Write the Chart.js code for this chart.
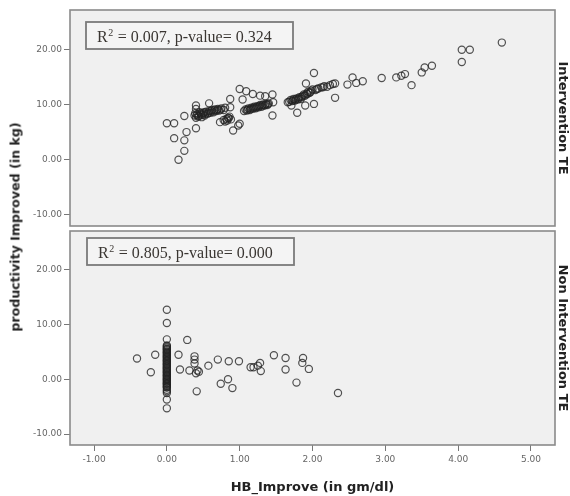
<!DOCTYPE html>
<html>
<head>
<meta charset="utf-8">
<script src="https://cdn.jsdelivr.net/npm/chart.js@4"></script>
<style>
  html, body { margin:0; padding:0; background:#fff; }
  #wrap { position:relative; width:570px; height:496px; overflow:hidden; }
  .cbox { position:absolute; left:0; width:570px; }
  #ytitle { position:absolute; left:15px; top:227px; transform:translate(-50%,-50%) rotate(-90deg);
    font:bold 12.6px "DejaVu Sans", sans-serif; color:#222; white-space:nowrap; }
</style>
</head>
<body>
<div id="wrap">
  <div class="cbox" style="top:0;height:236px"><canvas id="c1"></canvas></div>
  <div class="cbox" style="top:221px;height:275px"><canvas id="c2"></canvas></div>
  <div id="ytitle">productivity Improved (in kg)</div>
</div>
<script>
// ---- data ----
const panelNames = ["Intervention TE", "Non Intervention TE"];
const statsText = [["0.007", "0.324"], ["0.805", "0.000"]];
const xTickValues = [-1, 0, 1, 2, 3, 4, 5];
const yTickValues = [-10, 0, 10, 20];
const xTitle = "HB_Improve (in gm/dl)";

const interventionX = [
  0.00,0.10,0.24,0.10,0.24,0.27,0.24,0.16,0.40,0.40,0.40,
  0.38,0.40,0.42,0.44,0.45,0.47,0.48,0.50,0.52,0.54,0.56,0.58,0.60,0.62,0.64,0.66,0.68,0.70,0.72,0.75,0.78,0.80,
  0.39,0.41,0.43,0.46,0.49,0.51,0.53,0.57,0.61,0.65,0.69,0.74,
  0.58,0.73,0.78,0.82,0.84,0.86,0.88,0.80,0.83,0.85,0.91,0.98,1.00,0.87,0.87,
  1.00,1.09,1.18,1.28,1.35,1.45,1.46,1.45,1.04,
  1.06,1.08,1.10,1.12,1.14,1.16,1.18,1.20,1.22,1.24,1.26,1.28,1.30,1.32,1.34,1.36,1.38,1.40,
  1.11,1.15,1.19,1.23,1.27,1.31,1.35,1.39,
  1.66,
  1.68,1.70,1.72,1.74,1.76,1.78,1.80,1.82,1.84,1.86,1.88,1.90,1.92,1.94,1.96,1.98,2.00,2.04,2.08,2.12,2.16,2.20,2.24,2.28,
  1.73,1.77,1.81,1.85,1.89,1.93,1.97,2.06,2.14,
  1.79,1.90,2.02,1.71,2.31,2.02,1.91,2.31,
  2.48,2.55,2.60,2.69,2.95,3.15,3.22,3.27,3.36,3.50,3.54,3.64,4.05,4.05,4.16,4.60
];
const interventionY = [
  6.6,6.6,7.9,3.9,3.5,5.0,1.6,0.0,5.7,9.8,9.2,
  8.0,7.6,8.3,7.9,8.6,8.2,7.7,8.4,8.0,8.7,8.3,8.8,8.5,9.0,8.6,9.1,8.8,9.2,8.9,9.3,9.0,9.4,
  8.4,8.1,7.8,8.4,8.1,8.6,8.3,8.5,8.8,8.9,9.0,9.1,
  10.2,6.8,7.2,7.4,7.6,7.8,7.3,6.9,7.1,7.5,5.3,6.2,6.5,11.0,9.5,
  12.8,12.4,11.9,11.6,11.5,11.8,10.4,8.0,10.9,
  8.8,9.1,8.9,9.3,9.0,9.4,9.2,9.6,9.3,9.7,9.5,9.9,9.6,10.0,9.8,10.1,9.9,10.2,
  9.1,9.2,9.4,9.5,9.7,9.8,9.9,10.1,
  10.4,
  10.5,10.8,10.6,11.0,10.7,11.1,10.9,11.3,11.0,11.5,11.8,11.6,12.0,12.3,12.1,12.5,12.7,12.6,12.9,13.1,13.3,13.2,13.5,13.7,
  10.7,10.9,11.1,11.3,11.6,11.9,12.2,12.8,13.1,
  8.5,9.8,10.1,9.8,11.2,15.7,13.8,13.8,
  13.6,14.9,13.9,14.2,14.8,14.9,15.2,15.5,13.5,15.8,16.7,17.0,17.7,19.9,19.9,21.2
];
const nonInterventionX = [
  0,0,0,0,0,
  0,0,0,0,0,0,0,0,0,0,0,0,0,0,0,0,0,0,0,0,0,0,0,0,0,0,
  0,0,0,0,0,0,0,0,0,0,0,0,0,0,0,0,0,0,0,0,0,0,
  0.28,-0.41,-0.16,-0.22,0.16,0.18,0.31,0.38,0.38,0.38,0.40,0.42,0.44,0.41,0.57,0.70,0.85,0.99,0.74,0.84,0.90,
  1.15,1.19,1.25,1.28,1.29,1.47,1.63,1.63,1.87,1.86,1.95,1.78,2.35
];
const nonInterventionY = [
  12.7,10.3,7.3,-3.7,-5.3,
  6.2,5.8,5.5,5.1,4.8,4.4,4.1,3.7,3.4,3.0,2.7,2.3,2.0,1.6,1.3,0.9,0.6,0.2,-0.1,-0.5,-0.8,-1.2,-1.5,-1.9,-2.2,-2.5,
  6.0,5.6,5.3,4.9,4.6,4.2,3.9,3.5,3.2,2.8,2.5,2.1,1.8,1.4,1.1,0.7,0.4,0.0,-0.3,-0.7,-1.0,-1.4,
  7.2,3.8,4.5,1.3,4.5,1.8,1.6,4.2,3.6,2.9,1.1,1.6,1.4,-2.2,2.5,3.6,3.3,3.3,-0.8,0.0,-1.6,
  2.2,2.2,2.5,3.0,1.5,4.4,3.9,1.8,3.9,3.0,1.9,-0.6,-2.5
];
const xRange = [-1.33, 5.33];
const yRange = [-12.0, 27.1];

function pts(xs, ys) { return xs.map((x, i) => ({x: x, y: ys[i]})); }

const panelPlugin = {
  id: 'panel',
  beforeDatasetsDraw(chart) {
    const {ctx, chartArea: a} = chart;
    ctx.save();
    ctx.fillStyle = '#f0f0f0';
    ctx.fillRect(a.left, a.top, a.right - a.left, a.bottom - a.top);
    ctx.restore();
  },
  afterDatasetsDraw(chart, args, opts) {
    const {ctx, chartArea: a} = chart;
    ctx.save();
    ctx.strokeStyle = '#8a8a8a';
    ctx.lineWidth = 1.6;
    ctx.strokeRect(a.left, a.top, a.right - a.left, a.bottom - a.top);
    // stats box
    const bx = a.left + opts.dx, by = a.top + opts.dy, bw = 207, bh = 27;
    ctx.fillStyle = '#f4f4f4';
    ctx.fillRect(bx, by, bw, bh);
    ctx.strokeStyle = '#7a7a7a';
    ctx.lineWidth = 1.8;
    ctx.strokeRect(bx, by, bw, bh);
    ctx.fillStyle = '#3a3632';
    ctx.textBaseline = 'alphabetic';
    ctx.textAlign = 'left';
    let tx = bx + 11, ty = by + 20;
    ctx.font = '16px "Liberation Serif", "Times New Roman", serif';
    ctx.fillText('R', tx, ty);
    tx += ctx.measureText('R').width;
    ctx.font = '10px "Liberation Serif", "Times New Roman", serif';
    ctx.fillText('2', tx + 0.5, ty - 6);
    tx += ctx.measureText('2').width + 1;
    ctx.font = '16px "Liberation Serif", "Times New Roman", serif';
    ctx.fillText(' = ' + opts.r2 + ', p-value= ' + opts.p, tx, ty);
    ctx.restore();
  }
};

const tickFont = {family: '"DejaVu Sans", sans-serif', size: 9};
const titleFont = {family: '"DejaVu Sans", sans-serif', size: 13, weight: 'bold'};

function makeChart(id, data, idx, showX) {
  return new Chart(document.getElementById(id), {
    type: 'scatter',
    data: {
      datasets: [{
        data: data,
        pointStyle: 'circle',
        pointRadius: 3.6,
        pointHoverRadius: 3.6,
        borderWidth: 1.2,
        borderColor: 'rgba(35,35,35,0.78)',
        backgroundColor: 'rgba(0,0,0,0)'
      }]
    },
    options: {
      responsive: true,
      maintainAspectRatio: false,
      animation: false,
      events: [],
      layout: {padding: {top: 10, bottom: idx === 0 ? 10 : 0, left: 0, right: 0}},
      plugins: {
        legend: {display: false},
        tooltip: {enabled: false},
        panel: {dx: idx === 0 ? 16 : 17, dy: idx === 0 ? 12 : 7, r2: statsText[idx][0], p: statsText[idx][1]}
      },
      scales: {
        x: {
          type: 'linear',
          display: showX,
          min: xRange[0], max: xRange[1],
          afterBuildTicks: s => { s.ticks = xTickValues.map(v => ({value: v})); },
          afterFit: s => { if (showX) s.height = 51; },
          ticks: {
            font: tickFont, color: '#666', padding: 3, maxRotation: 0,
            callback: v => Number(v).toFixed(2)
          },
          grid: {display: true, drawOnChartArea: false, drawTicks: true, tickLength: 6, color: '#777'},
          border: {display: false},
          title: {display: true, text: xTitle, font: titleFont, color: '#222', padding: {top: 0, bottom: 1}}
        },
        y: {
          type: 'linear',
          position: 'left',
          min: yRange[0], max: yRange[1],
          afterBuildTicks: s => { s.ticks = yTickValues.map(v => ({value: v})); },
          afterFit: s => { s.width = 70; },
          ticks: {
            font: tickFont, color: '#666', padding: 2,
            callback: v => Number(v).toFixed(2)
          },
          grid: {display: true, drawOnChartArea: false, drawTicks: true, tickLength: 6, color: '#777'},
          border: {display: false}
        },
        y2: {
          type: 'linear',
          position: 'right',
          min: yRange[0], max: yRange[1],
          afterFit: s => { s.width = 15; },
          ticks: {display: false},
          grid: {display: false, drawTicks: false},
          border: {display: false},
          title: {display: true, text: panelNames[idx], font: titleFont, color: '#222', padding: 0}
        }
      }
    },
    plugins: [panelPlugin]
  });
}

makeChart('c1', pts(interventionX, interventionY), 0, false);
makeChart('c2', pts(nonInterventionX, nonInterventionY), 1, true);
</script>
</body>
</html>
